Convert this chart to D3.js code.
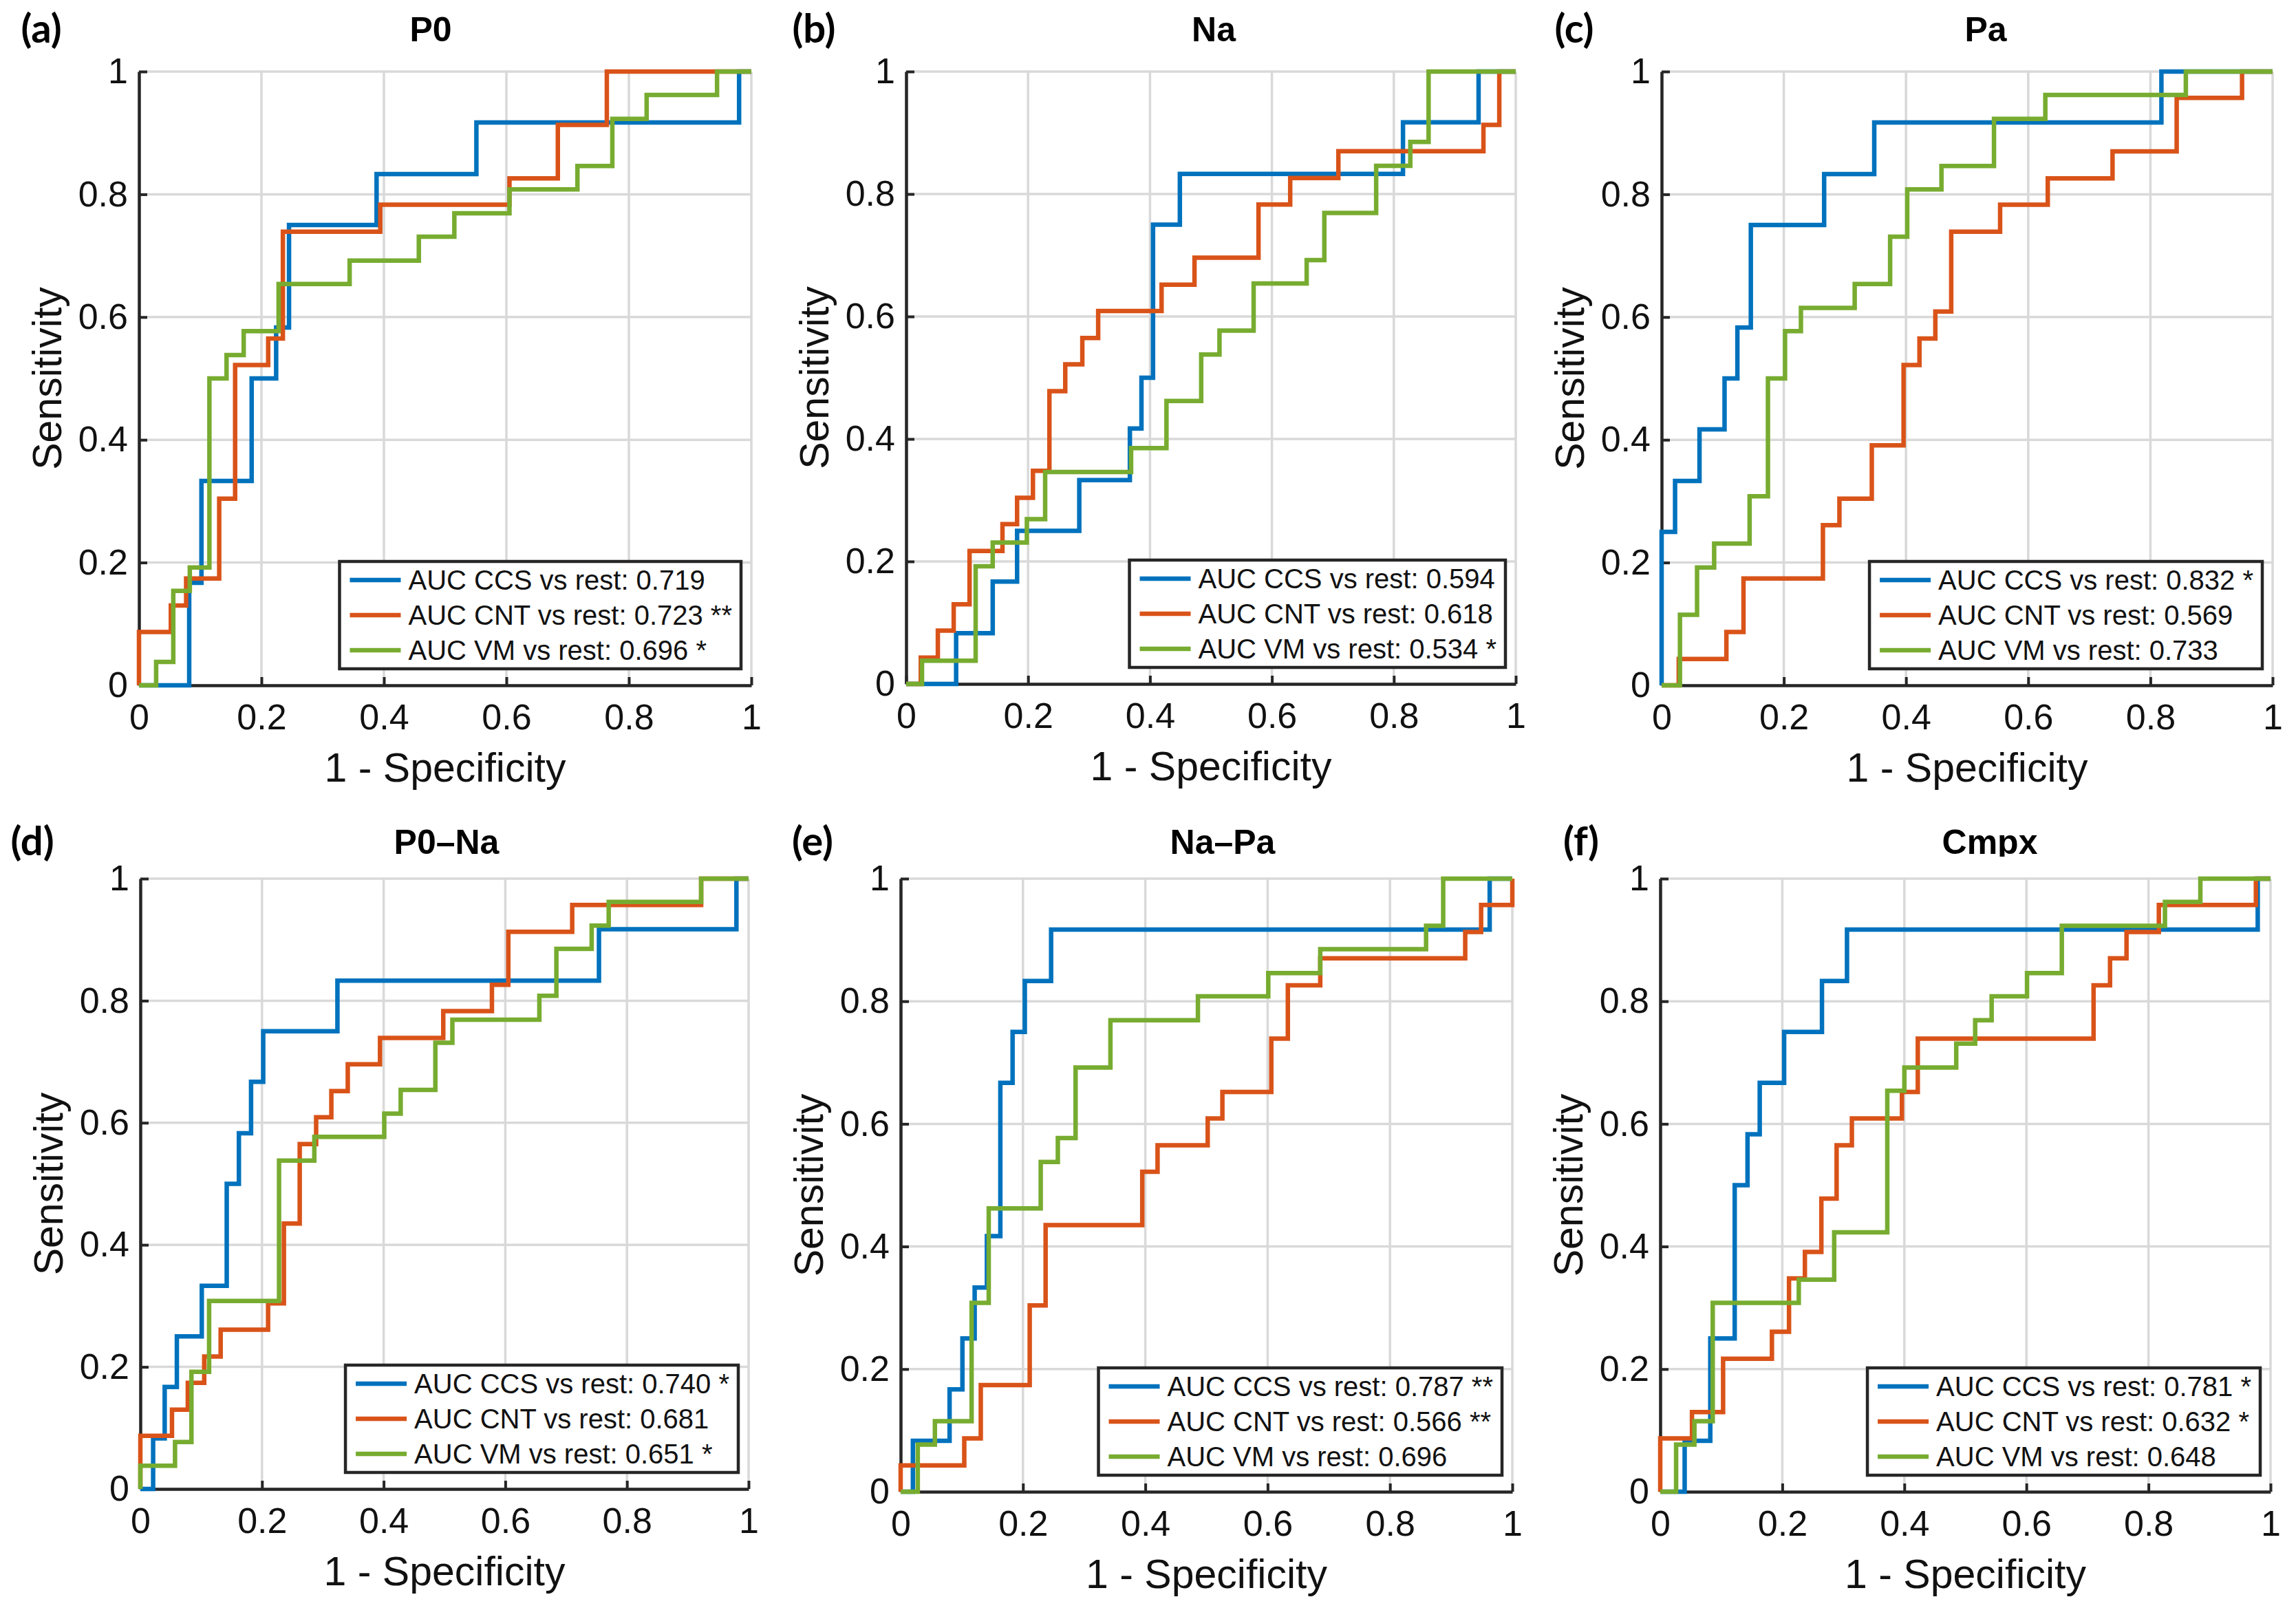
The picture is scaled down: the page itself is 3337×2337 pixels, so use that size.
<!DOCTYPE html>
<html>
<head>
<meta charset="utf-8">
<script src="https://cdn.jsdelivr.net/npm/d3@7"></script>
<style>
  html, body { margin: 0; padding: 0; background: #ffffff; }
  svg { display: block; }
</style>
</head>
<body>
<script>
// ---------------- DATA ----------------
const panelIds = ["(a)", "(b)", "(c)", "(d)", "(e)", "(f)"];
const titles = ["P0", "Na", "Pa", "P0–Na", "Na–Pa", "Cmpx"];
const seriesNames = ["CCS", "CNT", "VM"];
const aucCCS = ["0.719", "0.594", "0.832", "0.740", "0.787", "0.781"];
const aucCNT = ["0.723", "0.618", "0.569", "0.681", "0.566", "0.632"];
const aucVM  = ["0.696", "0.534", "0.733", "0.651", "0.696", "0.648"];
const sigCCS = ["", "", "*", "*", "**", "*"];
const sigCNT = ["**", "", "", "", "**", "*"];
const sigVM  = ["*", "*", "", "*", "", ""];
const tickValues = [0, 0.2, 0.4, 0.6, 0.8, 1];
const tickLabels = ["0", "0.2", "0.4", "0.6", "0.8", "1"];
const xLabel = "1 - Specificity";
const yLabel = "Sensitivity";

// ROC step vertices (1 - specificity, sensitivity)
// (a) P0
const a_CCS_x = [0, 0.082, 0.102, 0.184, 0.224, 0.245, 0.388, 0.551, 0.980, 1];
const a_CCS_y = [0, 0.167, 0.333, 0.500, 0.583, 0.750, 0.833, 0.917, 1.000, 1];
const a_CNT_x = [0, 0, 0.052, 0.077, 0.131, 0.157, 0.211, 0.235, 0.394, 0.605, 0.684, 0.764, 1];
const a_CNT_y = [0, 0.087, 0.130, 0.174, 0.304, 0.522, 0.565, 0.739, 0.783, 0.826, 0.913, 1, 1];
const a_VM_x  = [0, 0.028, 0.056, 0.083, 0.115, 0.143, 0.171, 0.228, 0.344, 0.457, 0.515, 0.605, 0.716, 0.773, 0.829, 0.944, 1];
const a_VM_y  = [0, 0.038, 0.154, 0.192, 0.500, 0.538, 0.577, 0.654, 0.692, 0.731, 0.769, 0.808, 0.846, 0.923, 0.962, 1, 1];
// (b) Na
const b_CCS_x = [0, 0.082, 0.142, 0.182, 0.284, 0.367, 0.386, 0.405, 0.449, 0.815, 0.939, 1];
const b_CCS_y = [0, 0.083, 0.167, 0.250, 0.333, 0.417, 0.500, 0.750, 0.833, 0.917, 1, 1];
const b_CNT_x = [0, 0.024, 0.052, 0.078, 0.104, 0.158, 0.182, 0.208, 0.235, 0.261, 0.289, 0.315, 0.419, 0.473, 0.578, 0.630, 0.709, 0.947, 0.973, 1];
const b_CNT_y = [0, 0.043, 0.087, 0.130, 0.217, 0.261, 0.304, 0.348, 0.478, 0.522, 0.565, 0.609, 0.652, 0.696, 0.783, 0.826, 0.870, 0.913, 1, 1];
const b_VM_x  = [0, 0.026, 0.114, 0.142, 0.198, 0.228, 0.369, 0.427, 0.484, 0.514, 0.570, 0.657, 0.686, 0.771, 0.827, 0.857, 1];
const b_VM_y  = [0, 0.038, 0.192, 0.231, 0.269, 0.346, 0.385, 0.462, 0.538, 0.577, 0.654, 0.692, 0.769, 0.846, 0.885, 1, 1];
// (c) Pa
const c_CCS_x = [0, 0, 0.022, 0.062, 0.103, 0.124, 0.146, 0.266, 0.348, 0.818, 1];
const c_CCS_y = [0, 0.250, 0.333, 0.417, 0.500, 0.583, 0.750, 0.833, 0.917, 1, 1];
const c_CNT_x = [0, 0.028, 0.106, 0.134, 0.264, 0.291, 0.344, 0.396, 0.422, 0.448, 0.474, 0.554, 0.632, 0.738, 0.843, 0.950, 1];
const c_CNT_y = [0, 0.043, 0.087, 0.174, 0.261, 0.304, 0.391, 0.522, 0.565, 0.609, 0.739, 0.783, 0.826, 0.870, 0.957, 1, 1];
const c_VM_x  = [0, 0.030, 0.058, 0.086, 0.144, 0.174, 0.202, 0.228, 0.316, 0.374, 0.402, 0.458, 0.544, 0.628, 0.858, 1];
const c_VM_y  = [0, 0.115, 0.192, 0.231, 0.308, 0.500, 0.577, 0.615, 0.654, 0.731, 0.808, 0.846, 0.923, 0.962, 1, 1];
// (d) P0–Na
const d_CCS_x = [0, 0.021, 0.040, 0.060, 0.101, 0.142, 0.162, 0.182, 0.202, 0.324, 0.754, 0.980, 1];
const d_CCS_y = [0, 0.083, 0.167, 0.250, 0.333, 0.500, 0.583, 0.667, 0.750, 0.833, 0.917, 1, 1];
const d_CNT_x = [0, 0, 0.052, 0.078, 0.105, 0.132, 0.210, 0.236, 0.262, 0.289, 0.314, 0.341, 0.394, 0.498, 0.578, 0.605, 0.710, 0.922, 1];
const d_CNT_y = [0, 0.087, 0.130, 0.174, 0.217, 0.261, 0.304, 0.435, 0.565, 0.609, 0.652, 0.696, 0.739, 0.783, 0.826, 0.913, 0.957, 1, 1];
const d_VM_x  = [0, 0, 0.057, 0.084, 0.113, 0.228, 0.286, 0.401, 0.428, 0.485, 0.513, 0.656, 0.684, 0.742, 0.770, 0.922, 1];
const d_VM_y  = [0, 0.038, 0.077, 0.192, 0.308, 0.538, 0.577, 0.615, 0.654, 0.731, 0.769, 0.808, 0.885, 0.923, 0.962, 1, 1];
// (e) Na–Pa
const e_CCS_x = [0, 0.020, 0.080, 0.101, 0.121, 0.141, 0.163, 0.183, 0.203, 0.246, 0.963, 1];
const e_CCS_y = [0, 0.083, 0.167, 0.250, 0.333, 0.417, 0.667, 0.750, 0.833, 0.917, 1, 1];
const e_CNT_x = [0, 0, 0.104, 0.131, 0.211, 0.237, 0.395, 0.420, 0.502, 0.526, 0.606, 0.633, 0.686, 0.923, 0.949, 1];
const e_CNT_y = [0, 0.043, 0.087, 0.174, 0.304, 0.435, 0.522, 0.565, 0.609, 0.652, 0.739, 0.826, 0.870, 0.913, 0.957, 1];
const e_VM_x  = [0, 0.028, 0.056, 0.116, 0.144, 0.229, 0.257, 0.286, 0.343, 0.486, 0.601, 0.686, 0.859, 0.887, 1];
const e_VM_y  = [0, 0.077, 0.115, 0.308, 0.462, 0.538, 0.577, 0.692, 0.769, 0.808, 0.846, 0.885, 0.923, 1, 1];
// (f) Cmpx
const f_CCS_x = [0, 0.040, 0.082, 0.122, 0.143, 0.163, 0.203, 0.265, 0.306, 0.979, 1];
const f_CCS_y = [0, 0.083, 0.250, 0.500, 0.583, 0.667, 0.750, 0.833, 0.917, 1, 1];
const f_CNT_x = [0, 0, 0.052, 0.103, 0.183, 0.211, 0.237, 0.264, 0.289, 0.314, 0.396, 0.422, 0.710, 0.737, 0.764, 0.817, 0.976, 1];
const f_CNT_y = [0, 0.087, 0.130, 0.217, 0.261, 0.348, 0.391, 0.478, 0.565, 0.609, 0.652, 0.739, 0.826, 0.870, 0.913, 0.957, 1, 1];
const f_VM_x  = [0, 0.026, 0.056, 0.086, 0.227, 0.285, 0.372, 0.400, 0.485, 0.516, 0.543, 0.601, 0.658, 0.827, 0.885, 1];
const f_VM_y  = [0, 0.077, 0.115, 0.308, 0.346, 0.423, 0.654, 0.692, 0.731, 0.769, 0.808, 0.846, 0.923, 0.962, 1, 1];

// ---------------- BUILD ----------------
const curveData = [
  [[a_CCS_x, a_CCS_y], [a_CNT_x, a_CNT_y], [a_VM_x, a_VM_y]],
  [[b_CCS_x, b_CCS_y], [b_CNT_x, b_CNT_y], [b_VM_x, b_VM_y]],
  [[c_CCS_x, c_CCS_y], [c_CNT_x, c_CNT_y], [c_VM_x, c_VM_y]],
  [[d_CCS_x, d_CCS_y], [d_CNT_x, d_CNT_y], [d_VM_x, d_VM_y]],
  [[e_CCS_x, e_CCS_y], [e_CNT_x, e_CNT_y], [e_VM_x, e_VM_y]],
  [[f_CCS_x, f_CCS_y], [f_CNT_x, f_CNT_y], [f_VM_x, f_VM_y]]
];
const aucs = [aucCCS, aucCNT, aucVM];
const sigs = [sigCCS, sigCNT, sigVM];

// layout (pixels)
const frames = [
  [202, 104, 890, 892], [1317, 104, 886, 890], [2415, 104, 888, 892],
  [204, 1277, 884, 887], [1309, 1277, 889, 891], [2413, 1277, 887, 891]
];
const titlePos = [[626, 60], [1764, 60], [2886, 60], [649, 1241], [1777, 1241], [2892, 1241]];
const labelPos = [[60, 62], [1183, 62], [2288, 62], [47, 1243], [1181, 1243], [2298, 1243]];
const colors = ["#0072BD", "#D95319", "#77AC30"];
const FONT = "'Liberation Sans', Arial, Helvetica, sans-serif";
const AXC = "#262626";

const svg = d3.select("body").append("svg")
  .attr("width", 3337).attr("height", 2337)
  .style("background", "#ffffff");

const defs = svg.append("defs");

panelIds.forEach((pid, i) => {
  const [L, T, W, H] = frames[i];
  const x = d3.scaleLinear().domain([0, 1]).range([L, L + W]);
  const y = d3.scaleLinear().domain([0, 1]).range([T + H, T]);
  const g = svg.append("g");

  // grid
  const grid = g.append("g");
  grid.selectAll("line.gx").data(tickValues).join("line")
    .attr("x1", d => x(d)).attr("x2", d => x(d))
    .attr("y1", T).attr("y2", T + H)
    .attr("stroke", "#d9d9d9").attr("stroke-width", 3.5);
  grid.selectAll("line.gy").data(tickValues).join("line")
    .attr("y1", d => y(d)).attr("y2", d => y(d))
    .attr("x1", L).attr("x2", L + W)
    .attr("stroke", "#d9d9d9").attr("stroke-width", 3.5);

  // axes
  const xAxis = d3.axisBottom(x).tickValues(tickValues)
    .tickFormat((d, j) => tickLabels[j]).tickSizeInner(-12).tickSizeOuter(0).tickPadding(27);
  const yAxis = d3.axisLeft(y).tickValues(tickValues)
    .tickFormat((d, j) => tickLabels[j]).tickSizeInner(-12).tickSizeOuter(0).tickPadding(16);

  const gx = g.append("g").attr("transform", `translate(0,${T + H})`).call(xAxis);
  const gy = g.append("g").attr("transform", `translate(${L},0)`).call(yAxis);
  [gx, gy].forEach(ax => {
    ax.attr("font-family", FONT).attr("font-size", 52);
    ax.select(".domain").attr("stroke", AXC).attr("stroke-width", 4.5);
    ax.selectAll(".tick line").attr("stroke", AXC).attr("stroke-width", 4);
    ax.selectAll(".tick text").attr("fill", "#111");
  });

  // axis labels
  g.append("text").attr("x", L + W / 2).attr("y", T + H + 140)
    .attr("text-anchor", "middle").attr("font-family", FONT).attr("font-size", 59)
    .attr("fill", "#111").text(xLabel);
  g.append("text")
    .attr("transform", `translate(${L - 134},${T + H / 2}) rotate(-90)`)
    .attr("dy", "0.35em")
    .attr("text-anchor", "middle").attr("font-family", FONT).attr("font-size", 59)
    .attr("fill", "#111").text(yLabel);

  // curves
  const line = d3.line().x(d => x(d[0])).y(d => y(d[1])).curve(d3.curveStepAfter);
  curveData[i].forEach((s, k) => {
    g.append("path").datum(d3.zip(s[0], s[1]))
      .attr("d", line)
      .attr("fill", "none")
      .attr("stroke", colors[k])
      .attr("stroke-width", 6.5)
      .attr("stroke-linejoin", "miter");
  });

  // title (clipped just under baseline)
  const [tx, ty] = titlePos[i];
  defs.append("clipPath").attr("id", "tclip" + i)
    .append("rect").attr("x", 0).attr("y", ty - 80).attr("width", 3337).attr("height", 84);
  g.append("text").attr("x", tx).attr("y", ty)
    .attr("text-anchor", "middle").attr("font-family", FONT).attr("font-weight", "bold")
    .attr("font-size", 50).attr("fill", "#000").attr("clip-path", `url(#tclip${i})`)
    .text(titles[i]);

  // panel label
  const [lx, ly] = labelPos[i];
  g.append("text").attr("x", lx).attr("y", ly)
    .attr("text-anchor", "middle").attr("font-family", "Lato, 'Open Sans', sans-serif")
    .attr("font-weight", "bold").attr("font-size", 58).attr("fill", "#000")
    .text(pid);

  // legend
  const lg = g.append("g");
  const box = lg.append("rect");
  const rowH = 51, padTop = 27, sampleL = 15, sampleLen = 74, gap = 11, padR = 13;
  const texts = [];
  seriesNames.forEach((nm, k) => {
    const sig = sigs[k][i];
    const lbl = `AUC ${nm} vs rest: ${aucs[k][i]}${sig ? " " + sig : ""}`;
    lg.append("line")
      .attr("x1", sampleL).attr("x2", sampleL + sampleLen)
      .attr("y1", padTop + k * rowH).attr("y2", padTop + k * rowH)
      .attr("stroke", colors[k]).attr("stroke-width", 6.5);
    const t = lg.append("text")
      .attr("x", sampleL + sampleLen + gap).attr("y", padTop + k * rowH)
      .attr("dy", "0.35em").attr("font-family", FONT).attr("font-size", 40)
      .attr("fill", "#111").text(lbl);
    texts.push(t);
  });
  const maxW = d3.max(texts, t => t.node().getComputedTextLength());
  const bw = sampleL + sampleLen + gap + maxW + padR;
  const bh = padTop * 2 + 2 * rowH;
  box.attr("x", 0).attr("y", 0).attr("width", bw).attr("height", bh)
    .attr("fill", "#ffffff").attr("stroke", AXC).attr("stroke-width", 4.5);
  lg.attr("transform", `translate(${L + W - 15 - bw},${T + H - 24 - bh})`);
});
</script>
</body>
</html>
